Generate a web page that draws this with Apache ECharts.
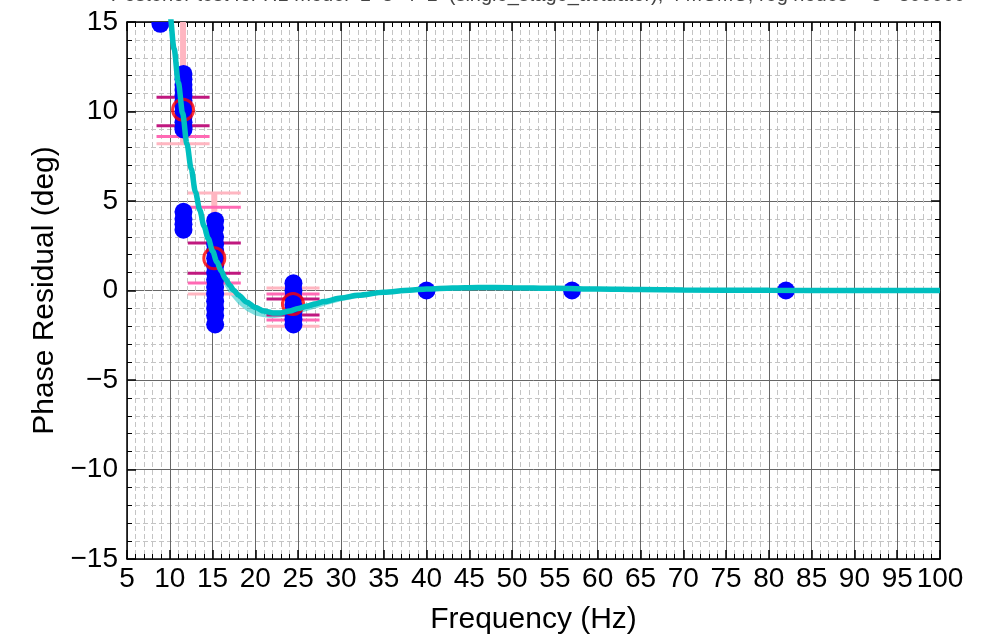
<!DOCTYPE html>
<html><head><meta charset="utf-8">
<script src="https://cdn.jsdelivr.net/npm/echarts@6/dist/echarts.min.js"></script>
<style>html,body{margin:0;padding:0;background:#fff}#c{width:981px;height:642px}</style>
</head><body><div id="c"></div>
<script>
// ---- data ----
const titleText = 'Posterior test for H1 model  1  3  4  1  (single_stage_actuator), 4 MCMC, reg nodes = 3   300000';
const xTicks = [5,10,15,20,25,30,35,40,45,50,55,60,65,70,75,80,85,90,95,100];
const yTicks = [-15,-10,-5,0,5,10,15];

// fitted residual curve
const curveX = [9.8,10,10.5,11,11.5,12,12.5,13,13.5,14,14.5,15,15.5,16,16.5,17,17.5,18,19,20,21,22,23,24,25,26,27,28,30,32,35,38,40,43,46,50,55,60,65,70,80,90,100];
const curveY = [16.3,15.5,13.5,11.6,9.9,8.2,6.8,5.5,4.5,3.6,2.9,2.2,1.6,1.1,0.65,0.3,0.0,-0.25,-0.65,-0.95,-1.15,-1.25,-1.25,-1.15,-1.0,-0.88,-0.75,-0.62,-0.42,-0.27,-0.1,0.02,0.08,0.14,0.17,0.16,0.12,0.08,0.05,0.03,0.01,0.0,0.0];

// uncertainty band around the curve
const bandX  = [11,12,13,14,15,16,17,18,19,20,21,22,23,24,25,26,27,28,30,32,35,38,40];
const bandHi = [11.8,8.4,5.7,3.8,2.4,1.3,0.5,-0.1,-0.5,-0.8,-1.0,-1.1,-1.1,-1.0,-0.85,-0.73,-0.6,-0.5,-0.3,-0.17,-0.03,0.06,0.1];
const bandLo = [11.2,7.8,5.0,3.1,1.7,0.6,-0.2,-0.75,-1.15,-1.4,-1.5,-1.55,-1.5,-1.4,-1.3,-1.15,-1.0,-0.85,-0.6,-0.42,-0.2,-0.05,0.02];

// measured samples
const sampleFreq = [8.9, 11.6, 11.6, 15.3, 24.45, 40, 57, 82];
const sampleVals = [
  [14.9],
  [12.1,11.8,11.5,11.2,10.9,10.6,10.3,10.0,9.7,9.4,9.1,9.0],
  [4.4,4.0,3.7,3.4],
  [3.9,3.5,3.0,2.6,2.2,1.8,1.4,1.0,0.6,0.2,-0.2,-0.6,-1.0,-1.4,-1.9],
  [0.4,0.0,-0.4,-0.8,-1.2,-1.6,-1.9],
  [0.0],
  [0.0],
  [0.0]
];

// mean points and their intervals
const meanX = [11.55, 15.2, 24.4];
const meanY = [10.1, 1.8, -0.75];
const ci1Lo = [9.2, 0.97, -1.37];
const ci1Hi = [10.8, 2.65, -0.47];
const ci2Lo = [8.6, 0.42, -1.65];
const ci2Hi = [16.5, 4.65, -0.2];
const ci3Lo = [8.2, -0.2, -2.0];
const ci3Hi = [18.0, 5.45, 0.14];

// ---- chart ----
const FONT = '"Liberation Sans", Arial, sans-serif';
const CAP_HALF = 3.1;
const samplePts = [];
sampleFreq.forEach((f, i) => sampleVals[i].forEach(v => samplePts.push([f, v])));
const meanPts = meanX.map((x, i) => [x, meanY[i]]);
const minus = v => String(v).replace('-', '\u2212');

function seg(p1, p2, color, w) {
  return {type: 'line', shape: {x1: p1[0], y1: p1[1], x2: p2[0], y2: p2[1]}, style: {stroke: color, lineWidth: w}};
}

const axisCommon = {
  type: 'value',
  axisLine: {show: true, onZero: false, lineStyle: {color: '#000', width: 1.5}},
  axisTick: {show: true, inside: true, length: 9, lineStyle: {color: '#000', width: 1.5}},
  minorTick: {show: true, splitNumber: 5, length: 5, lineStyle: {color: '#000', width: 1}},
};

const chart = echarts.init(document.getElementById('c'));
chart.setOption({
  animation: false,
  backgroundColor: '#fff',
  title: {
    text: titleText, left: 533, textAlign: 'center', top: -20,
    textStyle: {fontSize: 20, fontWeight: 'normal', color: '#444', fontFamily: FONT}
  },
  grid: {left: 127, right: 41, top: 22, bottom: 83, containLabel: false},
  xAxis: [
    Object.assign({}, axisCommon, {
      min: xTicks[0], max: xTicks[xTicks.length - 1], interval: 5, position: 'bottom',
      name: 'Frequency (Hz)', nameLocation: 'middle', nameGap: 46,
      nameTextStyle: {fontSize: 30, color: '#000', fontFamily: FONT},
      axisLabel: {show: true, fontSize: 28, color: '#000', fontFamily: FONT, margin: 6},
      splitLine: {show: true, lineStyle: {color: '#666', width: 1}},
      minorSplitLine: {show: true, lineStyle: {color: '#c4c4c4', width: 1, type: [5, 3]}}
    }),
    Object.assign({}, axisCommon, {
      min: xTicks[0], max: xTicks[xTicks.length - 1], interval: 5, position: 'top',
      axisLabel: {show: false}, splitLine: {show: false}, minorSplitLine: {show: false}
    })
  ],
  yAxis: [
    Object.assign({}, axisCommon, {
      min: yTicks[0], max: yTicks[yTicks.length - 1], interval: 5, position: 'left',
      name: 'Phase Residual (deg)', nameLocation: 'middle', nameGap: 67,
      nameTextStyle: {fontSize: 30, color: '#000', fontFamily: FONT},
      axisLabel: {show: true, fontSize: 28, color: '#000', fontFamily: FONT, margin: 9, formatter: minus},
      splitLine: {show: true, lineStyle: {color: '#666', width: 1}},
      minorSplitLine: {show: true, lineStyle: {color: '#c4c4c4', width: 1, type: [5, 3]}}
    }),
    Object.assign({}, axisCommon, {
      min: yTicks[0], max: yTicks[yTicks.length - 1], interval: 5, position: 'right',
      axisLabel: {show: false}, splitLine: {show: false}, minorSplitLine: {show: false}
    })
  ],
  series: [
    {
      type: 'custom', name: 'band', coordinateSystem: 'cartesian2d', clip: true, z: 2,
      data: [[bandX[0], bandLo[0]]],
      renderItem: function (params, api) {
        const pts = [];
        for (let i = 0; i < bandX.length; i++) pts.push(api.coord([bandX[i], bandHi[i]]));
        for (let i = bandX.length - 1; i >= 0; i--) pts.push(api.coord([bandX[i], bandLo[i]]));
        return {type: 'polygon', shape: {points: pts}, style: {fill: 'rgba(0,191,191,0.5)'}};
      }
    },
    {
      type: 'custom', name: 'intervals', coordinateSystem: 'cartesian2d', clip: true, z: 3,
      data: meanX.map((x, i) => [x, meanY[i]]),
      renderItem: function (params, api) {
        const i = params.dataIndex;
        const x = meanX[i];
        const children = [];
        children.push(seg(api.coord([x, ci3Lo[i]]), api.coord([x, ci3Hi[i]]), '#ffb6c1', 6));
        const caps = [[ci3Lo, ci3Hi, '#ffb6c1'], [ci2Lo, ci2Hi, '#ff69b4'], [ci1Lo, ci1Hi, '#c0187f']];
        caps.forEach(c => {
          [c[0][i], c[1][i]].forEach(v => {
            children.push(seg(api.coord([x - CAP_HALF, v]), api.coord([x + CAP_HALF, v]), c[2], 3));
          });
        });
        return {type: 'group', children: children};
      }
    },
    {
      type: 'custom', name: 'samples', coordinateSystem: 'cartesian2d', clip: true, z: 4,
      data: samplePts,
      renderItem: function (params, api) {
        const p = api.coord([api.value(0), api.value(1)]);
        return {type: 'circle', shape: {cx: p[0], cy: p[1], r: 9}, style: {fill: '#0000ff'}};
      }
    },
    {
      type: 'scatter', name: 'mean', data: meanPts, symbol: 'circle', symbolSize: 21, z: 5,
      itemStyle: {color: 'rgba(0,0,0,0)', borderColor: '#ff0000', borderWidth: 3}
    },
    {
      type: 'line', name: 'fit', data: curveX.map((x, i) => [x, curveY[i]]), showSymbol: false,
      smooth: 0.3, smoothMonotone: 'x', clip: true, z: 6,
      lineStyle: {color: '#00bfbf', width: 5.5}
    }
  ]
});
</script>
</body></html>
